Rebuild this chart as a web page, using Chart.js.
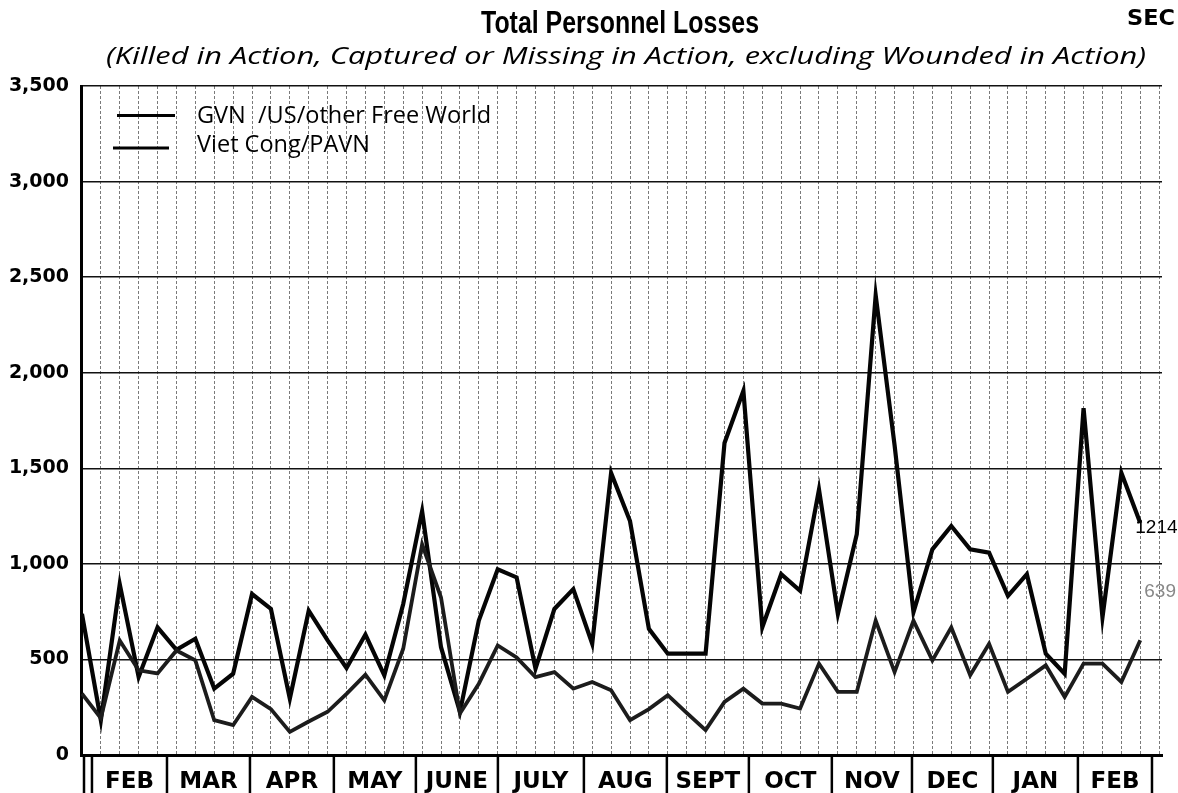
<!DOCTYPE html>
<html>
<head>
<meta charset="utf-8">
<title>Total Personnel Losses</title>
<script src="https://cdn.jsdelivr.net/npm/chart.js@4.4.1/dist/chart.umd.min.js"></script>
<style>
  html, body { margin: 0; padding: 0; background: #fff; }
  #wrap { width: 1178px; height: 793px; position: relative; }
</style>
</head>
<body>
<div id="wrap"><canvas id="losses-chart" width="1178" height="793"></canvas></div>
<script>
// weekly losses, late Jan 1966 -> end Feb 1967
const vcLosses = [738, 182, 894, 408, 668, 550, 608, 347, 425, 842, 764, 295, 755, 600, 455, 630, 417, 790, 1276, 564,
  226, 703, 972, 929, 451, 764, 868, 582, 1476, 1224, 660, 530, 530, 530, 1632, 1905, 668, 946, 859, 1389,
  738, 1155, 2405, 1620, 747, 1076, 1198, 1076, 1059, 833, 946, 530, 425, 1814, 720, 1476, 1214];
const gvnLosses = [321, 193, 599, 443, 427, 547, 495, 182, 156, 304, 240, 121, 175, 226, 320, 420, 286, 556, 1102, 824,
  217, 373, 573, 510, 408, 434, 347, 382, 339, 182, 240, 313, 220, 130, 278, 347, 269, 269, 243, 478,
  330, 330, 703, 434, 703, 495, 668, 417, 582, 330, 399, 469, 304, 478, 478, 382, 600];

const monthNames = ['FEB', 'MAR', 'APR', 'MAY', 'JUNE', 'JULY', 'AUG', 'SEPT', 'OCT', 'NOV', 'DEC', 'JAN', 'FEB'];
// month boundaries in weeks from the first plotted week
const monthEdges = [0.53, 4.5, 8.89, 13.33, 17.67, 22.01, 26.56, 30.95, 35.29, 39.68, 43.92, 48.2, 52.7, 56.62];

const yTicks = [0, 500, 1000, 1500, 2000, 2500, 3000, 3500];

const titleText = 'Total Personnel Losses';
const subtitleText = '(Killed in Action, Captured or Missing in Action, excluding Wounded in Action)';
const legendLabels = ['GVN  /US/other Free World', 'Viet Cong/PAVN'];
const endLabels = ['1214', '639'];

// text squeezed/stretched to a given width, the old charts used condensed type
function fitText(ctx, text, left, baseline, width, font) {
  ctx.font = font;
  const w = ctx.measureText(text).width;
  ctx.save();
  ctx.translate(left, baseline);
  ctx.scale(width / w, 1);
  ctx.textAlign = 'left';
  ctx.textBaseline = 'alphabetic';
  ctx.fillText(text, 0, 0);
  ctx.restore();
}

function drawLine(ctx, x1, y1, x2, y2) {
  ctx.beginPath();
  ctx.moveTo(x1, y1);
  ctx.lineTo(x2, y2);
  ctx.stroke();
}

const decorations = {
  id: 'decorations',
  afterDraw(chart) {
    const { ctx, chartArea } = chart;
    const x = chart.scales.x;
    const y = chart.scales.y;
    ctx.save();
    ctx.fillStyle = '#000';

    // titles
    fitText(ctx, titleText, 481, 33, 278, 'bold 31px "Liberation Sans"');
    fitText(ctx, subtitleText, 106, 64, 1040, 'italic 24px "Open Sans"');
    fitText(ctx, 'SEC', 1127, 25, 48, 'bold 21px "DejaVu Sans"');

    // legend
    ctx.strokeStyle = '#000';
    ctx.lineWidth = 3;
    drawLine(ctx, 117, 115.5, 175, 115.5);
    drawLine(ctx, 113, 148, 169, 148);
    ctx.font = '23.5px "Open Sans"';
    ctx.textAlign = 'left';
    ctx.textBaseline = 'alphabetic';
    ctx.fillText(legendLabels[0], 197, 123);
    ctx.fillText(legendLabels[1], 197, 152);

    // month strip under the plot
    const top = chartArea.bottom;
    const bottom = chart.height;
    ctx.lineWidth = 2.5;
    drawLine(ctx, chartArea.left + 3, top, chartArea.left + 3, bottom);
    monthEdges.forEach(e => {
      const px = x.getPixelForValue(e);
      drawLine(ctx, px, top, px, bottom);
    });
    ctx.font = 'bold 23px "DejaVu Sans"';
    ctx.textAlign = 'center';
    monthNames.forEach((m, i) => {
      const c = (x.getPixelForValue(monthEdges[i]) + x.getPixelForValue(monthEdges[i + 1])) / 2;
      ctx.fillText(m, c, 788);
    });

    // values written at the line ends
    const last = vcLosses.length - 1;
    ctx.textAlign = 'left';
    ctx.font = '19px "Liberation Sans"';
    ctx.fillText(endLabels[0], x.getPixelForValue(last) - 5, y.getPixelForValue(vcLosses[last]) + 10);
    ctx.fillStyle = '#888';
    ctx.fillText(endLabels[1], x.getPixelForValue(last) + 4, y.getPixelForValue(gvnLosses[last]) - 43);
    ctx.restore();
  }
};

const ctx = document.getElementById('losses-chart').getContext('2d');
const lossChart = new Chart(ctx, {
  type: 'line',
  data: {
    datasets: [
      {
        label: legendLabels[0],
        data: gvnLosses.map((v, i) => ({ x: i, y: v })),
        borderColor: '#1c1c1c',
        borderWidth: 3.8,
        pointRadius: 0,
        tension: 0
      },
      {
        label: legendLabels[1],
        data: vcLosses.map((v, i) => ({ x: i, y: v })),
        borderColor: '#050505',
        borderWidth: 4.2,
        pointRadius: 0,
        tension: 0
      }
    ]
  },
  options: {
    responsive: false,
    animation: false,
    devicePixelRatio: 1,
    layout: { padding: { top: 86, right: 16, left: 0, bottom: 0 } },
    plugins: {
      legend: { display: false },
      tooltip: { enabled: false },
      title: { display: false }
    },
    scales: {
      x: {
        type: 'linear',
        min: -0.05,
        max: 57.15,
        afterFit(scale) { scale.height = 38; },
        ticks: { display: false, stepSize: 1, includeBounds: false, autoSkip: false },
        grid: { color: '#7a7a7a', lineWidth: 1, drawTicks: false },
        border: { display: true, color: '#000', width: 3, dash: [3, 2] }
      },
      y: {
        min: 0,
        max: 3500,
        afterFit(scale) { scale.width = 81; },
        afterBuildTicks(scale) { scale.ticks = yTicks.map(v => ({ value: v })); },
        ticks: {
          padding: 12,
          color: '#000',
          font: { family: 'DejaVu Sans', weight: 'bold', size: 19 },
          callback: v => v.toLocaleString('en-US')
        },
        grid: { color: '#111', lineWidth: 1.4, drawTicks: false },
        border: { color: '#000', width: 3 }
      }
    }
  },
  plugins: [decorations]
});
</script>
</body>
</html>
